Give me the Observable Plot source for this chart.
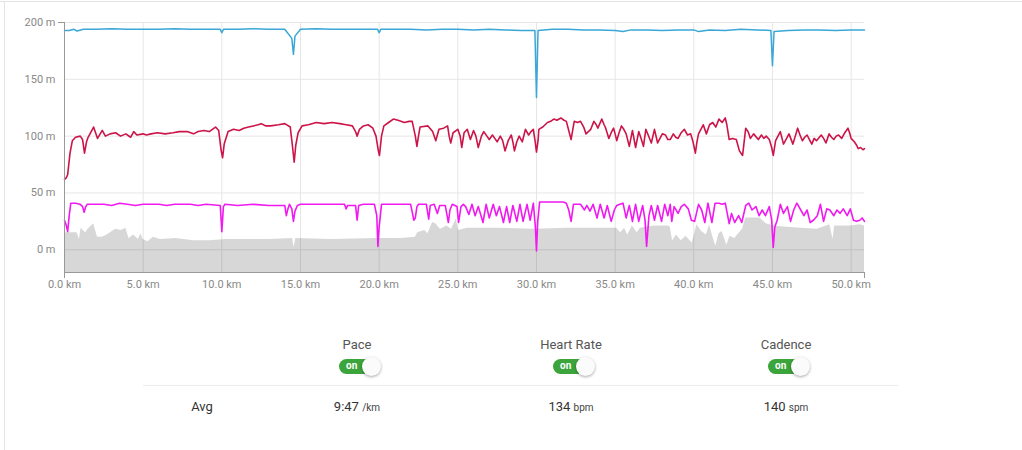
<!DOCTYPE html>
<html><head><meta charset="utf-8">
<script src="https://cdn.jsdelivr.net/npm/d3@7"></script>
<script src="https://cdn.jsdelivr.net/npm/@observablehq/plot@0.6"></script>
<style>
body{margin:0;background:#fff;font-family:Roboto,"Open Sans",sans-serif;}
#wrap{position:relative;width:1022px;height:450px;overflow:hidden;}
.bt{position:absolute;left:0;top:1px;width:1022px;height:1px;background:#e4e4e4}
.bl{position:absolute;left:4px;top:1px;width:1px;height:449px;background:#e4e4e4}
#chart{position:absolute;left:0;top:0}
.hd{position:absolute;width:160px;margin-left:-80px;text-align:center;font-size:13px;color:#555;top:337px}
.tog{position:absolute;width:40px;height:15px;border-radius:8px;background:#3ba43b;top:359px;margin-left:-20px}
.tog span{position:absolute;left:7px;top:0px;font-size:10px;font-weight:bold;color:#fff;line-height:14px}
.tog i{position:absolute;right:-2px;top:-2px;width:19px;height:19px;border-radius:50%;background:#fbfbfb;box-shadow:0 1px 3px rgba(0,0,0,.35)}
.line{position:absolute;left:143px;width:755px;top:385px;height:1px;background:#ececec}
.val{position:absolute;width:200px;margin-left:-100px;text-align:center;font-size:13px;color:#333;top:399px}
.val small{font-size:10px;color:#444}
</style></head>
<body><div id="wrap"><div class="bt"></div><div class="bl"></div><div id="chart"></div>
<div class="hd" style="left:357px">Pace</div>
<div class="hd" style="left:571px">Heart Rate</div>
<div class="hd" style="left:786px">Cadence</div>
<div class="tog" style="left:359px"><span>on</span><i></i></div>
<div class="tog" style="left:573px"><span>on</span><i></i></div>
<div class="tog" style="left:788px"><span>on</span><i></i></div>
<div class="line"></div>
<div class="val" style="left:202px;color:#333">Avg</div>
<div class="val" style="left:357px">9:47 <small>/km</small></div>
<div class="val" style="left:571px">134 <small>bpm</small></div>
<div class="val" style="left:786px">140 <small>spm</small></div>
</div>
<script>
const xTicks = [0,5,10,15,20,25,30,35,40,45,50];
const yTicks = [0,50,100,150,200];
const xMax = 50.85;

const paceKm = [0,0.3,0.6,0.8,1.2,2,3,4,5,6,7,8,9,9.9,10.0,10.1,11,12,13,14,14.45,14.55,14.65,15,16,17,18,19,19.9,20.0,20.1,21,22,23,24,25,26,27,28,29,29.9,30.0,30.1,31,32,33,34,35,35.5,36,37,38,39,40,40.3,41,42,43,44,44.9,45.0,45.1,46,47,48,49,50,50.85];
const paceVal = [193,193,194,192.5,194,194,194.5,194,194,194,194.5,194,194,194,191,194,194,194.5,194,194,186,172,188,194,194.5,194,194,194,194,191,194,194,194,193.5,194,194,193.5,194,193.5,193,193,134,193,194,194,193.5,193.5,193,192,193.5,193.5,193,193.5,193.5,192,193.5,193,194,193.5,193,162,192,193,193.5,193.5,193,193.5,193.5];

const hrKm = [0,0.1,0.2,0.35,0.5,0.7,1.0,1.15,1.27,1.4,1.5,1.85,2.1,2.4,2.6,2.9,3.25,3.56,3.9,4.2,4.4,4.6,5.0,5.2,5.5,5.9,6.4,6.9,7.3,7.8,8.2,8.5,8.85,9.2,9.6,9.8,9.95,10.05,10.15,10.4,10.75,11.1,11.4,11.7,12.0,12.3,12.5,12.8,13.1,13.6,14.0,14.35,14.5,14.6,14.7,14.85,15.1,15.5,16.0,16.5,17.0,17.5,17.9,18.3,18.5,18.6,18.75,19.0,19.3,19.6,19.8,19.95,20.02,20.15,20.3,20.6,20.9,21.2,21.6,21.9,22.1,22.3,22.4,22.5,22.6,23.1,23.4,23.6,23.8,24.1,24.35,24.45,24.55,24.7,25.0,25.15,25.25,25.4,25.6,25.8,26.0,26.15,26.3,26.5,26.65,26.85,27.0,27.2,27.35,27.5,27.7,27.85,28.0,28.2,28.4,28.5,28.6,28.75,28.9,29.1,29.3,29.5,29.65,29.8,29.92,30.0,30.1,30.15,30.4,30.7,30.9,31.1,31.3,31.55,31.75,31.9,32.05,32.2,32.3,32.4,32.6,32.8,33.0,33.15,33.3,33.45,33.65,33.8,33.9,34.15,34.3,34.4,34.6,34.75,34.9,35.0,35.1,35.25,35.4,35.55,35.7,35.9,36.1,36.3,36.5,36.65,36.8,36.95,37.1,37.3,37.5,37.7,37.85,38.0,38.2,38.35,38.5,38.7,38.85,39.0,39.2,39.4,39.6,39.8,39.95,40.1,40.2,40.3,40.6,40.8,41.0,41.2,41.4,41.6,41.8,42.0,42.1,42.25,42.45,42.7,42.9,43.1,43.2,43.3,43.45,43.6,43.8,44.1,44.3,44.45,44.6,44.8,44.95,45.05,45.2,45.35,45.5,45.7,45.9,46.05,46.3,46.45,46.6,46.75,46.9,47.05,47.2,47.35,47.5,47.65,47.8,48.1,48.25,48.4,48.6,48.75,48.9,49.05,49.2,49.4,49.6,49.8,49.9,50.0,50.2,50.35,50.45,50.6,50.75,50.85];
const hrVal = [62,63,66,85,96,99,100,97,85,95,99,108,98,105,100,102,103,100,102,99,104,101,102,101,102,103,102,103,104,104,102,104,105,104,108,105,88,81,93,104,106,105,107,108,109,110,111,109,109,110,111,108,90,77,92,103,109,110,112,111,112,111,110,109,104,100,106,109,110,107,100,87,83,100,109,112,115,114,112,113,113,100,91,100,108,109,104,96,106,107,109,100,94,103,106,100,90,103,106,97,105,100,90,100,104,100,97,101,98,95,100,96,87,96,101,95,87,95,100,95,106,101,104,106,95,86,96,106,108,112,113,115,114,116,114,113,105,97,105,113,112,113,108,102,104,106,113,110,107,115,110,107,98,103,107,102,96,103,109,106,102,91,105,90,104,98,91,106,101,94,106,94,98,102,101,97,97,102,99,98,103,106,101,102,95,85,95,102,110,102,110,112,108,115,112,116,110,97,98,97,87,83,95,107,104,98,102,97,101,98,100,97,90,83,96,100,104,93,98,102,93,100,107,101,96,99,101,97,93,98,96,101,98,94,102,99,97,100,101,98,103,107,103,98,95,92,89,90,88,89];

const cadKm = [0,0.1,0.2,0.3,0.4,0.7,1.0,1.15,1.25,1.35,1.45,2.0,2.5,3.0,3.5,4.0,4.5,5.0,6.0,6.5,7.0,8.0,8.5,9.0,9.9,10.0,10.1,10.2,11.0,12.0,13.0,14.0,14.1,14.2,14.3,14.45,14.55,14.65,14.8,15.0,16.0,17.0,17.8,17.9,18.0,18.5,18.6,18.7,19.0,19.7,19.85,19.92,20.0,20.15,21.0,22.0,22.15,22.2,22.3,22.4,22.5,23.0,23.15,23.25,23.5,23.7,23.85,24.2,24.4,24.5,24.65,24.95,25.05,25.2,25.35,25.5,25.7,25.9,26.1,26.3,26.6,26.8,27.0,27.25,27.45,27.65,27.9,28.1,28.3,28.5,28.75,28.95,29.15,29.4,29.6,29.8,29.93,30.0,30.08,30.2,31.0,31.7,31.9,32.05,32.2,32.35,32.8,33.05,33.2,33.4,33.6,33.85,34.05,34.3,34.5,34.75,34.95,35.1,35.3,35.5,35.7,35.9,36.1,36.3,36.5,36.75,36.9,37.0,37.15,37.3,37.5,37.7,37.95,38.15,38.35,38.5,38.6,38.75,39.0,39.2,39.4,39.65,39.85,40.05,40.3,40.5,40.7,40.9,41.15,41.35,41.6,41.8,42.0,42.25,42.4,42.6,42.85,43.05,43.3,43.5,43.7,43.95,44.15,44.35,44.55,44.8,44.95,45.05,45.15,45.3,45.5,45.7,45.95,46.15,46.35,46.55,46.8,47.0,47.2,47.4,47.6,47.85,48.05,48.25,48.45,48.65,48.9,49.1,49.3,49.5,49.75,49.95,50.15,50.35,50.55,50.7,50.85];
const cadVal = [26,22,16,30,41,41,40,38,33,38,40,40,40,39,41,40,39,40,40,39,40,40,39,40,39,16,38,40,39,40,39,39,30,36,40,36,25,34,39,40,40,40,40,36,39,39,26,39,40,40,30,3,20,40,40,40,30,26,28,38,40,40,27,39,40,32,39,39,24,35,40,38,24,38,40,38,31,40,30,38,24,40,28,40,30,38,24,38,24,39,25,40,25,40,26,41,20,-1,25,42,42,42,41,35,25,40,40,35,39,34,40,28,40,28,39,25,35,39,40,41,28,39,25,40,25,39,26,3,30,39,26,39,25,40,30,40,25,38,32,38,40,36,26,25,40,35,24,41,24,41,41,40,41,23,32,24,30,24,39,41,35,38,30,35,30,38,26,2,20,26,40,32,38,25,35,41,35,30,35,24,26,30,40,25,36,35,30,35,32,36,30,36,26,25,26,28,25];

const elevKm = [0,0.8,0.95,1.05,1.35,1.5,1.85,2.1,2.4,2.7,3.25,3.6,3.9,4.1,4.4,4.7,4.85,5.0,5.3,5.65,6.1,7.1,8.2,9.2,10.3,11.4,13.0,14.5,14.6,14.7,17.0,19.8,21.4,22.3,22.45,22.9,23.1,23.4,23.6,23.9,24.3,24.6,24.9,25.05,25.6,27.6,29.8,31.9,34.05,35.1,35.35,35.6,35.8,36.1,36.4,36.6,37.5,38.35,38.5,38.65,38.9,39.2,39.5,39.9,40.2,40.5,40.8,41.0,41.2,41.4,41.6,41.8,42.1,42.3,42.6,42.9,43.1,43.3,44.2,44.6,45.1,45.7,46.8,47.85,48.65,48.85,48.95,49.95,50.55,50.85];
const elevVal = [15,15,9,19,15,18,23,11,11,13,18,17,19,10,13,9,14,9,7,11,9,10,8,8,9,9,9,10,2,10,9,10,10,11,15,17,14,24,23,18,21,18,27,17,19,19,18,19,19,19,15,19,13,21,15,19,21,21,20,8,13,8,12,6,22,16,13,22,12,3,14,16,4,12,10,15,18,28,28,23,21,20,19,18,22,9,21,21,22,21];

const pace = paceKm.map((k,i)=>({km:k,v:paceVal[i]}));
const hr = hrKm.map((k,i)=>({km:k,v:hrVal[i]}));
const cad = cadKm.map((k,i)=>({km:k,v:cadVal[i]}));
const elev = elevKm.map((k,i)=>({km:k,v:elevVal[i]}));

const chart = Plot.plot({
  width: 1022, height: 300,
  marginLeft: 64, marginRight: 158, marginTop: 22, marginBottom: 28,
  style: {fontFamily: "Roboto, 'Open Sans', sans-serif", fontSize: "11px", background: "transparent"},
  x: {domain: [0, xMax]},
  y: {domain: [-20, 200]},
  marks: [
    Plot.ruleX(xTicks, {stroke: "#e6e6e6"}),
    Plot.ruleY(yTicks, {stroke: "#e6e6e6"}),
    Plot.areaY(elev, {x: "km", y1: -20, y2: "v", fill: "#000", fillOpacity: 0.155}),
    Plot.line(pace, {x: "km", y: "v", stroke: "#3aa7d6", strokeWidth: 1.5}),
    Plot.line(hr, {x: "km", y: "v", stroke: "#cc1448", strokeWidth: 1.6}),
    Plot.line(cad, {x: "km", y: "v", stroke: "#f01af0", strokeWidth: 1.6}),
    Plot.ruleX([0], {stroke: "#999"}),
    Plot.ruleY([-20], {stroke: "#999"}),
    Plot.ruleX([0, xMax], {y1: -20, y2: -20, insetBottom: -6, stroke: "#999"}),
    Plot.ruleY([200], {x1: 0, x2: 0, insetLeft: -6, stroke: "#999"}),
    Plot.axisX(xTicks, {tickSize: 0, tickPadding: 8, tickFormat: d => d.toFixed(1) + " km", fill: "#888", label: null}),
    Plot.axisY(yTicks, {tickSize: 0, tickPadding: 9, tickFormat: d => d + " m", fill: "#888", label: null})
  ]
});
document.getElementById("chart").appendChild(chart);
</script>
</body></html>
